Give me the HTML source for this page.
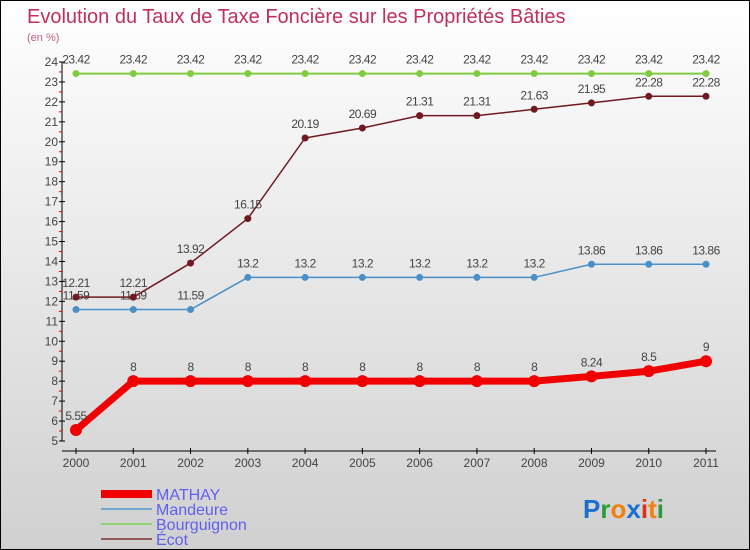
<!DOCTYPE html>
<html><head><meta charset="utf-8"><style>
body{margin:0}
#c{width:750px;height:550px;position:relative;overflow:hidden;box-sizing:border-box;border:1px solid #000;background:linear-gradient(#ffffff,#d0d0d0);font-family:"Liberation Sans",sans-serif}
svg text{font-family:"Liberation Sans",sans-serif}
</style></head><body>
<div id="c">
<svg id="s" width="750" height="550">
<text x="26" y="22" font-size="20" fill="#c0305a">Evolution du Taux de Taxe Foncière sur les Propriétés Bâties</text>
<text x="26" y="40" font-size="11" fill="#c06080">(en %)</text>
<text x="582" y="517" font-size="26" font-weight="bold"><tspan fill="#1a6fd0">P</tspan><tspan fill="#2a9a3a">r</tspan><tspan fill="#f08010">o</tspan><tspan fill="#1a6fd0">x</tspan><tspan fill="#e03010">i</tspan><tspan fill="#f08010">t</tspan><tspan fill="#2a9a3a">i</tspan></text>
</svg>
</div>
<script>
const years=[2000,2001,2002,2003,2004,2005,2006,2007,2008,2009,2010,2011];
const mathay=[5.55,8,8,8,8,8,8,8,8,8.24,8.5,9];
const mandeure=[11.59,11.59,11.59,13.2,13.2,13.2,13.2,13.2,13.2,13.86,13.86,13.86];
const bourguignon=[23.42,23.42,23.42,23.42,23.42,23.42,23.42,23.42,23.42,23.42,23.42,23.42];
const ecot=[12.21,12.21,13.92,16.15,20.19,20.69,21.31,21.31,21.63,21.95,22.28,22.28];
const yTicks=[5,6,7,8,9,10,11,12,13,14,15,16,17,18,19,20,21,22,23,24];
const NS="http://www.w3.org/2000/svg";
const s=document.getElementById('s');
const X=i=>75+i*(630/11);
const Y=v=>440-(v-5)*(379/19);
function el(t,a,p){const e=document.createElementNS(NS,t);for(const k in a)e.setAttribute(k,a[k]);(p||s).appendChild(e);return e;}
const ax=el('g',{});


el('line',{x1:61,y1:Y(24),x2:61,y2:Y(5),stroke:'#000'},ax);
el('line',{x1:61,y1:450,x2:715,y2:450,stroke:'#000'},ax);
yTicks.forEach(v=>{
 el('line',{x1:58,x2:64,y1:Y(v),y2:Y(v),stroke:'#000'},ax);
 if(v<24)el('line',{x1:58,x2:61,y1:Y(v+0.5),y2:Y(v+0.5),stroke:'#e00'},ax);
 const t=el('text',{x:57,y:Y(v)+4,'font-size':12,'text-anchor':'end',fill:'#444'},ax);
 
 
 t.textContent=v;
});
years.forEach((yr,i)=>{
 el('line',{x1:X(i),x2:X(i),y1:447,y2:453,stroke:'#000'},ax);
 const t=el('text',{x:X(i),y:466,'font-size':12,'text-anchor':'middle',fill:'#444'},ax);
 
 
 t.textContent=yr;
});
function series(vals,color,lw,r,name){
 const g=el('g',{});
 
 
 el('polyline',{points:vals.map((v,i)=>X(i)+','+Y(v)).join(' '),fill:'none',stroke:color,'stroke-width':lw,'stroke-linejoin':'round'},g);
 vals.forEach((v,i)=>{
  const c=el('circle',{cx:X(i),cy:Y(v),r:r,fill:color},g);
  
  
  const t=el('text',{x:X(i),y:Y(v)-10,'font-size':12,'text-anchor':'middle',fill:'#444','letter-spacing':'-0.5'},g);
  
  
  t.textContent=v;
 });
}
series(bourguignon,'#80cc40',2,3.5,'bourguignon');
series(mandeure,'#4a90c8',1.5,3.5,'mandeure');
series(ecot,'#701a20',1.5,3.5,'ecot');
series(mathay,'#f00000',7,6,'mathay');
const leg=[['MATHAY','#f00000',8],['Mandeure','#70a8d0',2],['Bourguignon','#90d070',2],['Écot','#905858',2]];
leg.forEach((l,i)=>{
 const g=el('g',{});
 
 
 const y=493+i*15;
 el('line',{x1:100,x2:151,y1:y,y2:y,stroke:l[1],'stroke-width':l[2]},g);
 const t=el('text',{x:155,y:y+6,'font-size':16,fill:'#6060f0'},g);
 t.textContent=l[0];
});
</script>
</body></html>
